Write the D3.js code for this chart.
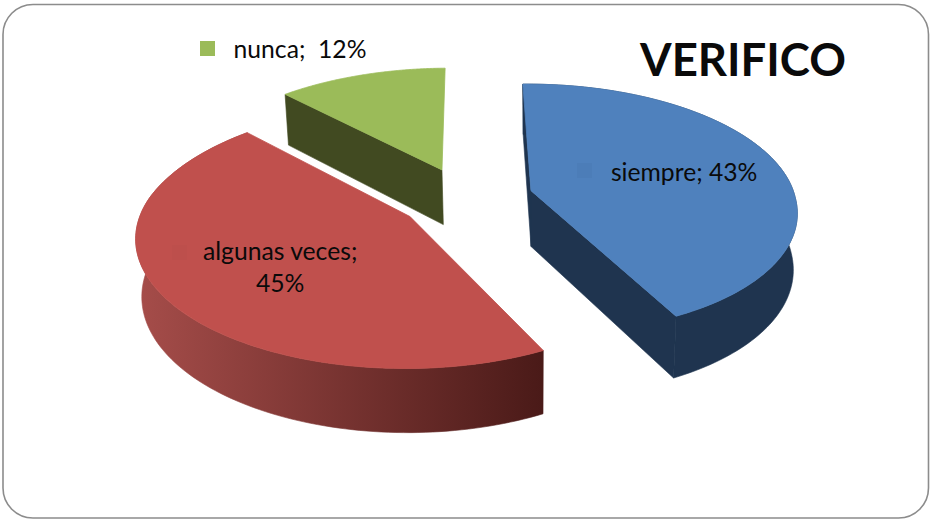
<!DOCTYPE html>
<html><head><meta charset="utf-8">
<script src="https://cdn.jsdelivr.net/npm/d3@7"></script>
<style>html,body{margin:0;padding:0;background:#fff}svg{display:block}text{font-family:Lato,"Open Sans",sans-serif;fill:#0a0a0a;white-space:pre}</style>
</head><body><svg id="c" width="930" height="519"></svg>
<script>
const categories = ["siempre", "algunas veces", "nunca"];
const values = [43, 45, 12];
const topColors = ["#4f81bd", "#c0504d", "#9bbb59"];
const wallColors = ["#1f344f", "#4b1b19", "#414a21"];
const chartTitle = "VERIFICO";

const W = 930, H = 519;
const cx = 466, cy = 198, R = 264.5, Ry = 124, depth = 57;
const persp = 0.145, zPersp = 0.015, zShift = 1, shearBack = 4, shearFront = -4, explode = 0.254;
const firstAngle = -1 * Math.PI / 180;

const svg = d3.select("#c");
const defs = svg.append("defs");
const grad = defs.append("linearGradient").attr("id", "redWall").attr("x1", 0).attr("x2", 1).attr("y1", 0).attr("y2", 0);
grad.append("stop").attr("offset", "0%").attr("stop-color", "#a64d4a");
grad.append("stop").attr("offset", "100%").attr("stop-color", "#4a1a18");

svg.append("rect").attr("x", 3).attr("y", 4.5).attr("width", 925.5).attr("height", 513.5)
  .attr("rx", 30).attr("ry", 30).attr("fill", "#fff").attr("stroke", "#8c8c8c").attr("stroke-width", 1.6);

// plane (u right, v toward viewer, z down) -> screen
function project(u, v, z) {
  const w = 1 / (1 - persp * v + zPersp * z);
  const skew = v < 0 ? -shearBack * v : -shearFront * v * v;
  return [cx + R * u * w + skew + zShift * z, cy + (Ry * v + depth * z) * w];
}
const pie = d3.pie().sort(null).value(d => d).startAngle(firstAngle).endAngle(firstAngle + 2 * Math.PI);
const arcs = pie(values);
const line = d3.line();

const slices = arcs.map((a, i) => {
  const mid = (a.startAngle + a.endAngle) / 2;
  const ou = explode * Math.sin(mid), ov = -explode * Math.cos(mid);
  const at = (t, r, z) => project(ou + r * Math.sin(t), ov - r * Math.cos(t), z);
  const ts = d3.range(0, 121).map(k => a.startAngle + (a.endAngle - a.startAngle) * k / 120);
  return {i, mid, at, ts, a};
});

// which radial walls face the viewer: [start, end] per slice
const wallVisible = [[true, true], [false, false], [true, false]];

const g = svg.append("g");
slices.forEach(s => {
  const {i, at, ts, a} = s;
  [a.startAngle, a.endAngle].forEach((t, k) => {
    if (!wallVisible[i][k]) return;
    g.append("path").attr("d", line([at(0,0,0), at(t,1,0), at(t,1,1), at(0,0,1)]) + "Z")
      .attr("fill", wallColors[i]).attr("stroke", wallColors[i]).attr("stroke-width", 0.6);
  });
  // outer wall (the green one faces away from the viewer)
  if (i !== 2) {
    const outer = ts.map(t => at(t,1,0)).concat(ts.slice().reverse().map(t => at(t,1,1)));
    const paint = i === 1 ? "url(#redWall)" : wallColors[i];
    g.append("path").attr("d", line(outer) + "Z").attr("fill", paint).attr("stroke", paint).attr("stroke-width", 0.6);
  }
  // top face
  const face = [at(0,0,0)].concat(ts.map(t => at(t,1,0)));
  g.append("path").attr("d", line(face) + "Z").attr("fill", topColors[i]).attr("stroke", topColors[i]).attr("stroke-width", 0.8);
});

// labels
const fs = 24.7;
function lab(x, y, txt, size, weight) {
  return svg.append("text").attr("x", x).attr("y", y).attr("text-anchor", "middle")
    .attr("font-size", size).attr("font-weight", weight || 400).text(txt);
}
function key(x, y, color) {
  svg.append("rect").attr("x", x).attr("y", y).attr("width", 15).attr("height", 15).attr("fill", color);
}
const pBlue = slices[0].at(slices[0].mid, 0.6, 0);
lab(pBlue[0] + 4, pBlue[1] + 7, `${categories[0]}; ${values[0]}%`, fs);
key(577, 163, "#4c7db8");
const pRed = slices[1].at(slices[1].mid, 0.6, 0);
lab(pRed[0] + 12, pRed[1] - 4, `${categories[1]};`, fs);
lab(pRed[0] + 12, pRed[1] + 28, `${values[1]}%`, fs);
key(172, 245, "#bd4f4c");
lab(300, 58, `${categories[2]};  ${values[2]}%`, fs);
key(200, 41, topColors[2]);
lab(743, 76, chartTitle, 45.5, 700);
</script></body></html>
